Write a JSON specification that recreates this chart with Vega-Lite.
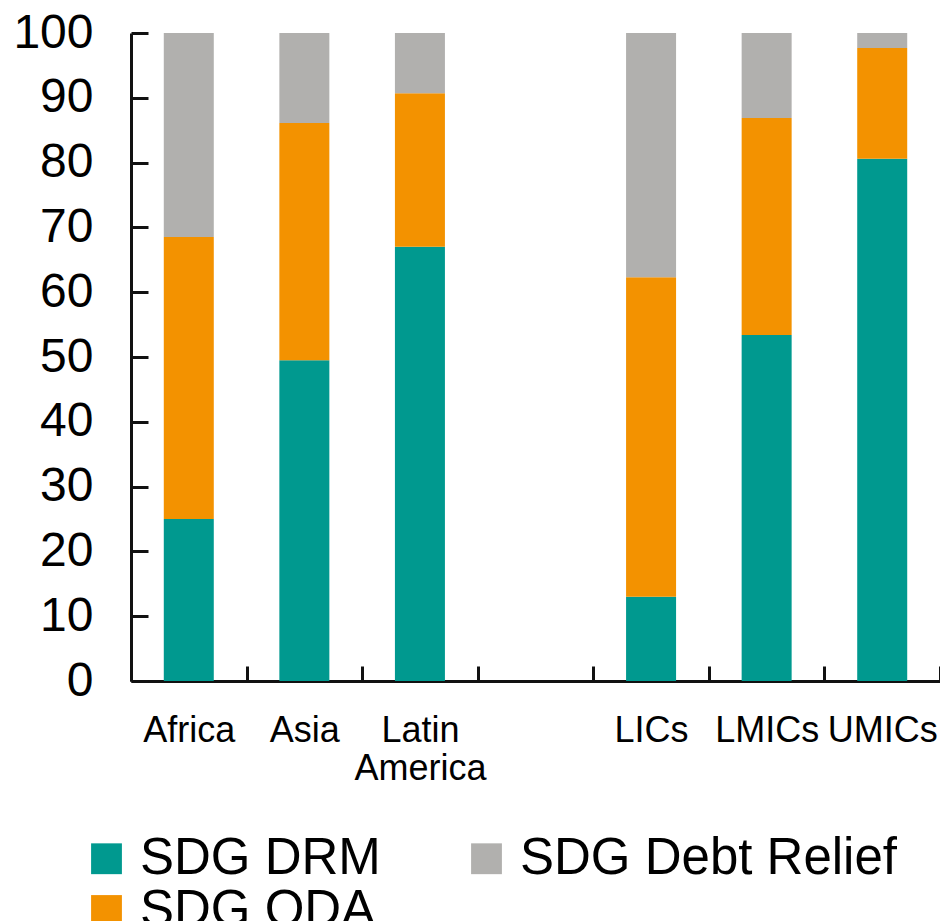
{
  "$schema": "https://vega.github.io/schema/vega-lite/v6.json",
  "width": 809,
  "height": 648,
  "autosize": {"type": "none"},
  "padding": {"left": 131, "top": 33, "right": 0, "bottom": 240},
  "background": "white",
  "config": {"view": {"stroke": null}, "font": "Liberation Sans"},
  "data": {
    "values": [
      {"region": "Africa", "series": "SDG DRM", "value": 25.0},
      {"region": "Africa", "series": "SDG ODA", "value": 43.5},
      {"region": "Africa", "series": "SDG Debt Relief", "value": 31.5},
      {"region": "Asia", "series": "SDG DRM", "value": 49.5},
      {"region": "Asia", "series": "SDG ODA", "value": 36.6},
      {"region": "Asia", "series": "SDG Debt Relief", "value": 13.9},
      {"region": "Latin America", "series": "SDG DRM", "value": 67.0},
      {"region": "Latin America", "series": "SDG ODA", "value": 23.7},
      {"region": "Latin America", "series": "SDG Debt Relief", "value": 9.3},
      {"region": "LICs", "series": "SDG DRM", "value": 13.0},
      {"region": "LICs", "series": "SDG ODA", "value": 49.3},
      {"region": "LICs", "series": "SDG Debt Relief", "value": 37.7},
      {"region": "LMICs", "series": "SDG DRM", "value": 53.4},
      {"region": "LMICs", "series": "SDG ODA", "value": 33.5},
      {"region": "LMICs", "series": "SDG Debt Relief", "value": 13.1},
      {"region": "UMICs", "series": "SDG DRM", "value": 80.6},
      {"region": "UMICs", "series": "SDG ODA", "value": 17.1},
      {"region": "UMICs", "series": "SDG Debt Relief", "value": 2.3}
    ]
  },
  "transform": [
    {"calculate": "indexof(['SDG DRM','SDG ODA','SDG Debt Relief'], datum.series)", "as": "stackOrder"}
  ],
  "mark": {"type": "bar", "width": 50},
  "encoding": {
    "x": {
      "field": "region",
      "type": "nominal",
      "scale": {"domain": ["Africa", "Asia", "Latin America", "gap", "LICs", "LMICs", "UMICs"], "paddingInner": 0, "paddingOuter": 0},
      "axis": {
        "title": null,
        "tickBand": "extent",
        "tickSize": -15,
        "tickWidth": 3,
        "tickColor": "#111111",
        "domainColor": "#111111",
        "domainWidth": 3,
        "labelAngle": 0,
        "labelFontSize": 36,
        "labelColor": "#000000",
        "labelPadding": 47,
        "labelLineHeight": 38,
        "labelBaseline": "top",
        "labelExpr": "datum.value == 'Latin America' ? ['Latin', 'America'] : (datum.value == 'gap' ? '' : datum.value)"
      }
    },
    "y": {
      "field": "value",
      "type": "quantitative",
      "stack": "zero",
      "scale": {"domain": [0, 100], "nice": false},
      "axis": {
        "title": null,
        "grid": false,
        "values": [0, 10, 20, 30, 40, 50, 60, 70, 80, 90, 100],
        "tickSize": -17,
        "tickWidth": 3,
        "tickColor": "#111111",
        "domainColor": "#111111",
        "domainWidth": 3,
        "labelFontSize": 48,
        "labelColor": "#000000",
        "labelPadding": 55
      }
    },
    "color": {
      "field": "series",
      "type": "nominal",
      "scale": {"domain": ["SDG DRM", "SDG ODA", "SDG Debt Relief"], "range": ["#00998F", "#F39200", "#B1B0AE"]},
      "legend": {
        "orient": "none",
        "legendX": -50,
        "legendY": 800,
        "columns": 2,
        "title": null,
        "padding": 0,
        "symbolType": "square",
        "symbolSize": 950,
        "symbolStrokeWidth": 0,
        "symbolOpacity": 1,
        "labelFontSize": 51,
        "labelOffset": 8,
        "labelLimit": 0,
        "labelColor": "#000000",
        "columnPadding": 80,
        "rowPadding": 0
      }
    },
    "order": {"field": "stackOrder", "type": "quantitative"}
  }
}
